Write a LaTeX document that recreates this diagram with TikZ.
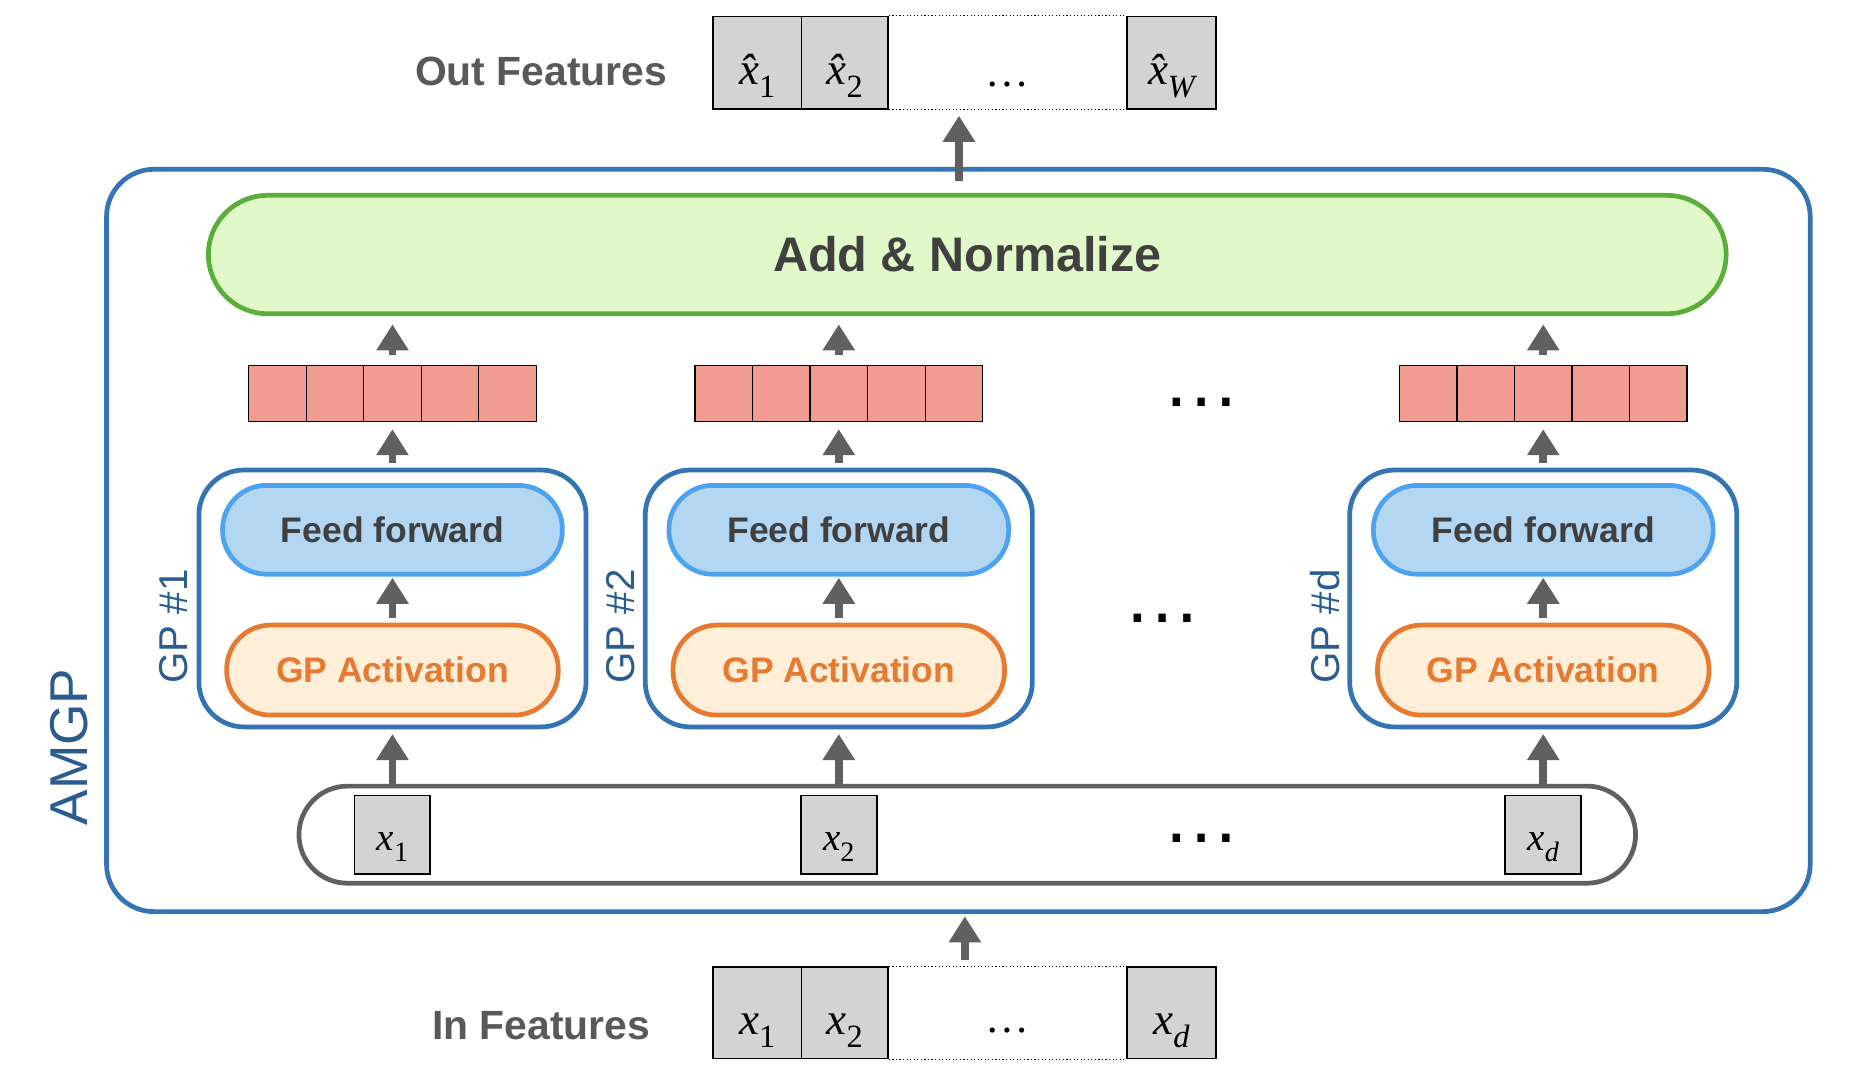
\documentclass[tikz,border=0pt]{standalone}
\usepackage{fontspec}
\setmainfont{Liberation Sans}
\newfontfamily\tms{Liberation Serif}
\usetikzlibrary{arrows.meta}
\definecolor{arrgray}{HTML}{606060}
\definecolor{blueline}{HTML}{3574B4}
\definecolor{bluetext}{HTML}{2B5C8F}
\definecolor{ffill}{HTML}{B3D6F2}
\definecolor{fline}{HTML}{4DA3F0}
\definecolor{gafill}{HTML}{FFEFD9}
\definecolor{galine}{HTML}{E57A30}
\definecolor{anfill}{HTML}{E1F8C8}
\definecolor{anline}{HTML}{5AAE3A}
\definecolor{darktext}{HTML}{404040}
\definecolor{labgray}{HTML}{595959}
\definecolor{redfill}{HTML}{F19C91}
\definecolor{cellgray}{HTML}{D3D3D3}
\newcommand\xsub[1]{\raisebox{-0.29em}{\scalebox{0.72}{#1}}}
\tikzset{
  uparrow/.style={draw=arrgray, line width=6.5pt, -{Triangle[width=26pt,length=22pt]}},
  outerbox/.style={draw=blueline, line width=4pt, rounded corners=40pt, inner sep=0pt},
  gpbox/.style={draw=blueline, line width=4pt, rounded corners=38pt, inner sep=0pt, minimum width=327pt, minimum height=217pt},
  ffbox/.style={draw=fline, fill=ffill, line width=4pt, rounded corners=37pt, inner sep=0pt, minimum width=287pt, minimum height=75pt, text=darktext, font=\bfseries\fontsize{30}{30}\selectfont},
  gabox/.style={draw=galine, fill=gafill, line width=4pt, rounded corners=37pt, inner sep=0pt, minimum width=280pt, minimum height=76pt, text=galine, font=\bfseries\fontsize{30}{30}\selectfont},
  redcell/.style={draw=black, line width=1pt, fill=redfill, inner sep=0pt, minimum width=48.6pt, minimum height=47pt},
  cell/.style={draw=black, line width=1.5pt, fill=cellgray, inner sep=0pt, minimum height=78pt, text height=36pt, text depth=0pt, font=\tms\fontsize{38}{38}\selectfont},
  xcell/.style={draw=black, line width=1.5pt, fill=cellgray, inner sep=0pt, minimum width=64pt, minimum height=66pt, text height=26pt, text depth=0pt, font=\tms\fontsize{33}{33}\selectfont},
  featlab/.style={text=labgray, font=\bfseries\fontsize{34.5}{34.5}\selectfont},
  gplab/.style={text=bluetext, rotate=90, font=\fontsize{34}{34}\selectfont},
  bigdots/.style={font=\fontsize{66}{66}\selectfont, text=black, inner sep=0pt},
  celldots/.style={font=\tms\fontsize{37}{37}\selectfont, anchor=base, inner sep=0pt},
}
\begin{document}
\begin{tikzpicture}[x=1pt,y=-1pt]
\useasboundingbox (0,0) rectangle (1566,919);

% outer AMGP box
\node[outerbox, minimum width=1439pt, minimum height=627pt] (amgp) at (809.5,456.5) {};
\node[text=bluetext, rotate=90, font=\fontsize{45}{45}\selectfont] (amgplab) at (58,631) {AMGP};

% Add & Normalize
\node[draw=anline, fill=anfill, line width=4pt, rounded corners=50pt, inner sep=0pt,
      minimum width=1282pt, minimum height=100pt, text=darktext,
      font=\bfseries\fontsize{41}{41}\selectfont] (an) at (817,215) {Add \& Normalize};

% input container
\node[draw=arrgray, fill=white, line width=4pt, rounded corners=41pt, inner sep=0pt,
      minimum width=1129pt, minimum height=82pt] (inp) at (817,705) {};

% columns
\foreach \n/\cx/\lab/\sb in {1/331.5/1/1, 2/708.5/2/2, 3/1303.5/d/{\itshape d}}{
  \node[gpbox] (gp\n) at (\cx,505.5) {};
  \node[ffbox] (ff\n) at (\cx,447.5) {Feed forward};
  \node[gabox] (ga\n) at (\cx,566) {GP Activation};
  \node[gplab] (gpl\n) at (\cx-184.5,529) {GP \#\lab};
  \foreach \i in {0,...,4}{
    \node[redcell] (red\n-\i) at ({\cx-97.2+48.6*\i},332.5) {};
  }
  \node[xcell] (xin\n) at (\cx,705) {{\itshape x}\xsub{\sb}};
  \draw[uparrow, shorten >=4pt] (inp.north -| gp\n.south) -- (gp\n.south);
  \draw[uparrow, shorten <=4pt, shorten >=1pt] (ga\n.north) -- (ff\n.south);
  \draw[uparrow, shorten <=4pt, shorten >=6pt] (gp\n.north) -- (red\n-2.south);
  \draw[uparrow, shorten <=9pt, shorten >=7pt] (red\n-2.north) -- (an.south -| red\n-2.north);
}

% ellipses between columns
\node[bigdots] (dotsr) at (1015,340) {…};
\node[bigdots] (dotsg) at (982,522) {…};
\node[bigdots] (dotsx) at (1015,708) {…};

% out features
\node[cell, minimum width=75pt] (o1) at (639.5,53) {{\itshape\^{x}}\xsub{1}};
\node[cell, minimum width=73pt] (o2) at (713.5,53) {{\itshape\^{x}}\xsub{2}};
\node[cell, minimum width=75pt] (o3) at (989.5,53) {{\itshape\^{x}}\xsub{\itshape W}};
\draw[dotted, line width=1pt] (o2.north east) -- (o3.north west);
\draw[dotted, line width=1pt] (o2.south east) -- (o3.south west);
\node[celldots] (odots) at (851,73) {…};
\node[featlab] (outlab) at (457,60) {Out Features};

% in features
\node[cell, minimum width=75pt, minimum height=77pt] (i1) at (639.5,855.5) {{\itshape x}\xsub{1}};
\node[cell, minimum width=73pt, minimum height=77pt] (i2) at (713.5,855.5) {{\itshape x}\xsub{2}};
\node[cell, minimum width=75pt, minimum height=77pt] (i3) at (989.5,855.5) {{\itshape x}\xsub{\itshape d}};
\draw[dotted, line width=1pt] (i2.north east) -- (i3.north west);
\draw[dotted, line width=1pt] (i2.south east) -- (i3.south west);
\node[celldots] (idots) at (851,872) {…};
\node[featlab] (inlab) at (457,866) {In Features};

% main arrows
\coordinate (upx) at (810,0);
\coordinate (dnx) at (815,0);
\draw[uparrow, shorten <=10pt, shorten >=5pt] (an.north -| upx) -- (o2.south -| upx);
\draw[uparrow, shorten <=5pt, shorten >=2pt] (i2.north -| dnx) -- (amgp.south -| dnx);
\end{tikzpicture}
\end{document}
